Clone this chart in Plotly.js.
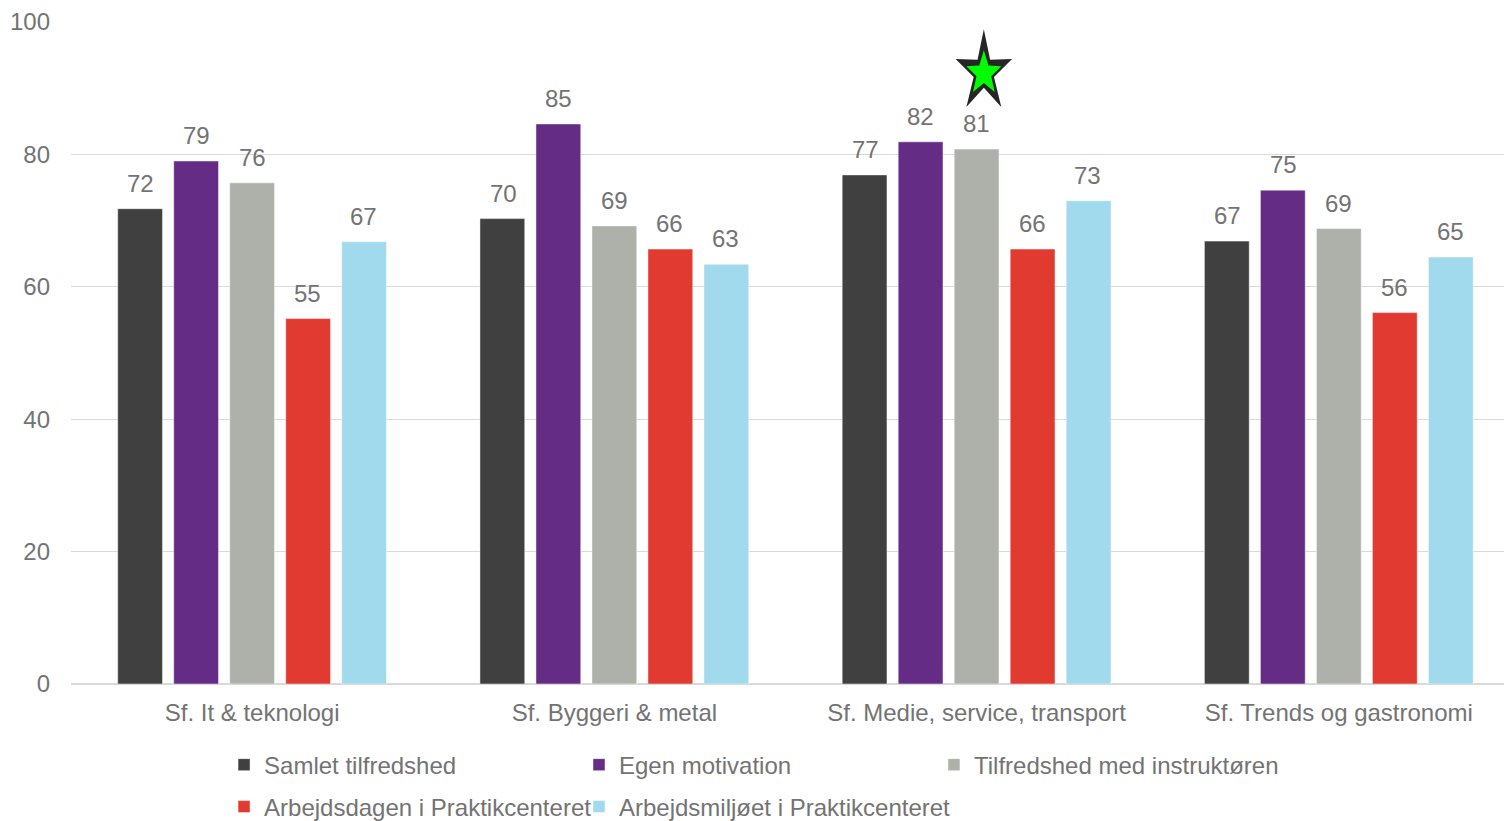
<!DOCTYPE html>
<html><head><meta charset="utf-8">
<script src="https://cdn.plot.ly/plotly-3.0.1.min.js"></script>
<style>html,body{margin:0;padding:0;overflow:hidden;background:#fff}#chart{width:1504px;height:821px}</style>
</head><body><div id="chart"></div>
<script>
const categories = ['Sf. It & teknologi','Sf. Byggeri & metal','Sf. Medie, service, transport','Sf. Trends og gastronomi'];
const seriesNames = ['Samlet tilfredshed','Egen motivation','Tilfredshed med instruktøren','Arbejdsdagen i Praktikcenteret','Arbejdsmiljøet i Praktikcenteret'];
const samlet = [71.8, 70.3, 76.9, 66.9];
const motivation = [79.0, 84.6, 81.9, 74.6];
const instruktor = [75.7, 69.2, 80.8, 68.8];
const arbejdsdagen = [55.2, 65.7, 65.7, 56.1];
const arbejdsmiljo = [66.8, 63.4, 73.0, 64.5];
const colors = ['#404040','#652C85','#ADB1AA','#E03A31','#A1DAEC'];
// highlight star above "Tilfredshed med instruktøren" in group 3
const starCategoryIndex = 2.02;
const starValue = 92.4;

const values = [samlet, motivation, instruktor, arbejdsdagen, arbejdsmiljo];
const txtColor = '#737373';
const fontFam = '"Liberation Sans", Arial, sans-serif';
const FS = 24;

const legendIds = ['legend','legend2','legend3','legend4','legend5'];
const legendPos = [[0.1068,-0.1224],[0.3545,-0.1224],[0.6022,-0.1224],[0.1068,-0.1858],[0.3545,-0.1858]];

const traces = values.map((v,i)=>({
  type:'bar', name:seriesNames[i], x:categories, y:v,
  marker:{color:colors[i], line:{color:'rgba(255,255,255,0.6)', width:0.8}},
  legend: legendIds[i],
  hoverinfo:'none'
}));

// data labels (rounded values) placed above each bar
const slot = 55.6;
const annotations = [];
values.forEach((v,i)=>{
  v.forEach((val,j)=>{
    annotations.push({
      xref:'x', yref:'y', x:j, y:val, xshift:(i-2)*slot, yshift:10,
      yanchor:'bottom', xanchor:'center', showarrow:false,
      text:String(Math.round(val)),
      font:{family:fontFam, size:FS, color:txtColor}
    });
  });
});

// star shape (pixel-sized, anchored at data position)
function starPath(R, sx, sy, ratio){
  let pts = [];
  for(let k=0;k<10;k++){
    const r = (k%2===0) ? R : R*ratio;
    const a = Math.PI/2 + k*Math.PI/5;
    pts.push([(Math.cos(a)*r*sx).toFixed(2), (Math.sin(a)*r*sy).toFixed(2)]);
  }
  return 'M' + pts.map(p=>p.join(',')).join('L') + 'Z';
}
const shapes = [
  {type:'path', xref:'x', yref:'y', xsizemode:'pixel', ysizemode:'pixel',
   xanchor:starCategoryIndex, yanchor:starValue, path:starPath(43, 0.69, 1, 0.36),
   fillcolor:'#262626', line:{width:0}, layer:'above'},
  {type:'path', xref:'x', yref:'y', xsizemode:'pixel', ysizemode:'pixel',
   xanchor:starCategoryIndex, yanchor:starValue - 0.15, path:starPath(23, 0.8, 1, 0.42),
   fillcolor:'#00FF00', line:{width:0}, layer:'above'}
];

const layout = {
  width:1504, height:821,
  margin:{l:71, r:0, t:22, b:137, autoexpand:false},
  paper_bgcolor:'#fff', plot_bgcolor:'#fff',
  font:{family:fontFam, size:FS, color:txtColor},
  barmode:'group', bargap:0.227, bargroupgap:0.2,
  xaxis:{type:'category', range:[-0.5, 3.456], showgrid:false, zeroline:false, showline:false,
    ticks:'', ticklabelstandoff:12, tickfont:{family:fontFam, size:FS, color:txtColor}},
  yaxis:{range:[0,100], dtick:20, showgrid:true, gridcolor:'#d9d9d9', gridwidth:1.3,
    zeroline:true, zerolinecolor:'#d9d9d9', zerolinewidth:1.3, showline:false, ticks:'',
    ticklabelstandoff:20, tickfont:{family:fontFam, size:FS, color:txtColor}},
  annotations: annotations,
  shapes: shapes,
  showlegend:true
};
legendIds.forEach((id,i)=>{
  layout[id] = {
    orientation:'h', xref:'paper', yref:'paper', xanchor:'left', yanchor:'middle',
    x:legendPos[i][0], y:legendPos[i][1],
    font:{family:fontFam, size:FS, color:txtColor},
    bgcolor:'rgba(0,0,0,0)', itemwidth:30
  };
});
Plotly.newPlot('chart', traces, layout, {displayModeBar:false, staticPlot:true});
</script></body></html>
